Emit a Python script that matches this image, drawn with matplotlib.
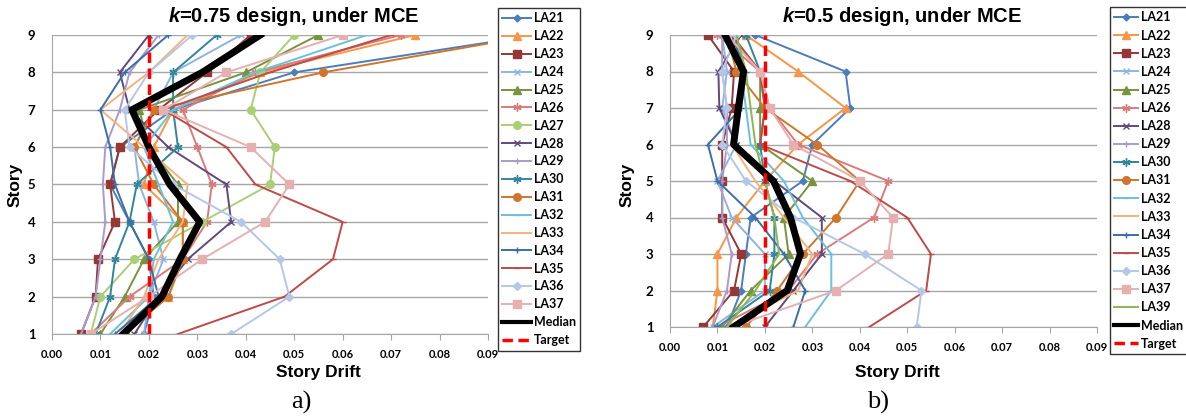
import numpy as np
import matplotlib
matplotlib.use('Agg')
import matplotlib.pyplot as plt

plt.rcParams['mathtext.fontset'] = 'custom'
plt.rcParams['mathtext.it'] = 'Liberation Sans:italic:bold'
plt.rcParams['mathtext.rm'] = 'Liberation Sans:bold'

stories = [1, 2, 3, 4, 5, 6, 7, 8, 9]
target = 0.02

# a) k=0.75 design
labels_a = ['LA21', 'LA22', 'LA23', 'LA24', 'LA25', 'LA26', 'LA27', 'LA28', 'LA29',
            'LA30', 'LA31', 'LA32', 'LA33', 'LA34', 'LA35', 'LA36', 'LA37']
drift_a = [
    [0.019, 0.021, 0.020, 0.016, 0.012, 0.014, 0.025, 0.050, 0.100],  # LA21
    [0.015, 0.024, 0.027, 0.027, 0.019, 0.021, 0.025, 0.043, 0.075],  # LA22
    [0.006, 0.009, 0.0095, 0.013, 0.012, 0.014, 0.022, 0.032, 0.041], # LA23
    [0.019, 0.020, 0.023, 0.021, 0.018, 0.017, 0.021, 0.025, 0.039],  # LA24
    [0.010, 0.015, 0.019, 0.026, 0.026, 0.020, 0.018, 0.040, 0.055],  # LA25
    [0.008, 0.016, 0.027, 0.032, 0.033, 0.030, 0.027, 0.042, 0.072],  # LA26
    [0.008, 0.010, 0.017, 0.031, 0.045, 0.046, 0.041, 0.043, 0.050],  # LA27
    [0.017, 0.022, 0.028, 0.037, 0.036, 0.024, 0.016, 0.014, 0.020],  # LA28
    [0.006, 0.009, 0.010, 0.011, 0.0105, 0.011, 0.014, 0.016, 0.022], # LA29
    [0.009, 0.012, 0.013, 0.016, 0.0175, 0.026, 0.025, 0.025, 0.034], # LA30
    [0.015, 0.024, 0.027, 0.027, 0.021, 0.017, 0.021, 0.056, 0.100],  # LA31
    [0.012, 0.020, 0.021, 0.025, 0.022, 0.019, 0.025, 0.042, 0.065],  # LA32
    [0.014, 0.019, 0.022, 0.027, 0.028, 0.019, 0.010, 0.020, 0.028],  # LA33
    [0.013, 0.022, 0.020, 0.016, 0.013, 0.012, 0.010, 0.015, 0.024],  # LA34
    [0.026, 0.048, 0.058, 0.060, 0.042, 0.036, 0.023, 0.045, 0.070],  # LA35
    [0.037, 0.049, 0.047, 0.039, 0.025, 0.016, 0.015, 0.020, 0.029],  # LA36
    [0.008, 0.020, 0.031, 0.044, 0.049, 0.041, 0.023, 0.036, 0.060],  # LA37
]
median_a = [0.0147, 0.0227, 0.0264, 0.0305, 0.0243, 0.020, 0.0165, 0.031, 0.043]

# b) k=0.5 design
labels_b = ['LA21', 'LA22', 'LA23', 'LA24', 'LA25', 'LA26', 'LA28', 'LA29', 'LA30',
            'LA31', 'LA32', 'LA33', 'LA34', 'LA35', 'LA36', 'LA37', 'LA39']
drift_b = [
    [0.012, 0.015, 0.016, 0.017, 0.028, 0.030, 0.038, 0.037, 0.018],  # LA21
    [0.009, 0.010, 0.010, 0.014, 0.020, 0.027, 0.037, 0.027, 0.016],  # LA22
    [0.007, 0.0135, 0.015, 0.011, 0.011, 0.011, 0.013, 0.0135, 0.008],# LA23
    [0.009, 0.020, 0.020, 0.013, 0.010, 0.014, 0.011, 0.012, 0.011],  # LA24
    [0.011, 0.017, 0.025, 0.024, 0.030, 0.019, 0.019, 0.019, 0.013],  # LA25
    [0.010, 0.025, 0.031, 0.043, 0.046, 0.027, 0.021, 0.019, 0.010],  # LA26
    [0.020, 0.026, 0.032, 0.032, 0.022, 0.014, 0.0104, 0.0102, 0.015],# LA28
    [0.009, 0.012, 0.013, 0.011, 0.011, 0.012, 0.012, 0.011, 0.011],  # LA29
    [0.010, 0.021, 0.022, 0.022, 0.020, 0.019, 0.020, 0.019, 0.016],  # LA30
    [0.016, 0.0226, 0.028, 0.035, 0.040, 0.031, 0.020, 0.014, 0.012], # LA31
    [0.0285, 0.034, 0.034, 0.028, 0.024, 0.017, 0.016, 0.015, 0.014], # LA32
    [0.012, 0.027, 0.030, 0.024, 0.018, 0.013, 0.015, 0.016, 0.013],  # LA33
    [0.026, 0.0285, 0.024, 0.018, 0.010, 0.008, 0.015, 0.016, 0.013], # LA34
    [0.042, 0.054, 0.055, 0.050, 0.038, 0.019, 0.020, 0.019, 0.013],  # LA35
    [0.052, 0.053, 0.041, 0.026, 0.016, 0.011, 0.012, 0.011, 0.014],  # LA36
    [0.013, 0.035, 0.046, 0.047, 0.040, 0.026, 0.021, 0.019, 0.012],  # LA37
    [0.012, 0.018, 0.023, 0.022, 0.020, 0.018, 0.017, 0.016, 0.014],  # LA39
]
median_b = [0.0134, 0.0247, 0.0275, 0.0254, 0.0218, 0.0134, 0.0144, 0.0155, 0.0116]

asterisk = (6, 2, 0)
style = {
    'LA21': ('#4A7EBB', 'D', 3.5),
    'LA22': ('#F79646', '^', 5.5),
    'LA23': ('#953735', 's', 5.5),
    'LA24': ('#8EB4E3', 'x', 5),
    'LA25': ('#77933C', '^', 5.5),
    'LA26': ('#DA7B7B', asterisk, 6),
    'LA27': ('#AACF74', 'o', 5.5),
    'LA28': ('#604A7B', 'x', 5),
    'LA29': ('#A99BCB', '+', 5),
    'LA30': ('#31859C', asterisk, 6),
    'LA31': ('#D0762C', 'o', 5.5),
    'LA32': ('#6CC0D8', '_', 5),
    'LA33': ('#F7B27A', None, 0),
    'LA34': ('#3C6EAA', '+', 5),
    'LA35': ('#BE4B48', '_', 5),
    'LA36': ('#B4C7E7', 'D', 4),
    'LA37': ('#E6B0B0', 's', 6),
    'LA39': ('#8DB650', None, 0),
}

fig = plt.figure(figsize=(11.86, 4.2), dpi=100)
ax_a = fig.add_axes([52 / 1186, 1 - 334 / 420, 436 / 1186, 299 / 420])
ax_b = fig.add_axes([670 / 1186, 1 - 327 / 420, 427 / 1186, 292 / 420])

tick_font = {'family': 'Lato', 'weight': 'bold'}


def draw(ax, labels, drift, median, title, title_x, legend_pos, spacing, hlen,
         xlab_x, ylab_x, tag, tag_x):
    for name, vals in zip(labels, drift):
        c, m, ms = style[name]
        ax.plot(vals, stories, color=c, marker=m, markersize=ms, lw=1.4,
                markeredgewidth=1.0, label=name)
    ax.plot(median, stories, color='black', lw=5, label='Median')
    ax.plot([target, target], [1, 9], color='red', lw=2.5, ls=(0, (3, 1.6)),
            label='Target')
    ax.set_xlim(0, 0.09)
    ax.set_ylim(1, 9)
    ax.set_xticks(np.arange(0, 0.091, 0.01))
    ax.set_xticklabels(['%.2f' % v for v in np.arange(0, 0.091, 0.01)],
                       fontsize=8, **tick_font)
    ax.set_yticks(stories)
    ax.set_yticklabels([str(s) for s in stories], fontsize=9.5, **tick_font)
    ax.grid(axis='y', color='#A6A6A6', lw=1)
    ax.set_axisbelow(True)
    for s in ['top', 'right']:
        ax.spines[s].set_visible(False)
    ax.spines['left'].set_color('#A6A6A6')
    ax.spines['bottom'].set_color('#A6A6A6')
    ax.tick_params(axis='x', direction='out', length=4, color='#A6A6A6', pad=7)
    ax.tick_params(axis='y', length=0, pad=12)
    fig.text(title_x / 1186, 1 - 16 / 420, title, ha='center', va='center',
             fontsize=14.5, fontweight='bold', family='Liberation Sans')
    fig.text(xlab_x / 1186, 1 - 373 / 420, 'Story Drift', ha='center', va='center',
             fontsize=12.5, fontweight='bold', family='Liberation Sans')
    fig.text(ylab_x / 1186, 1 - 185 / 420, 'Story', ha='center', va='center',
             rotation=90, fontsize=12.5, fontweight='bold', family='Liberation Sans')
    fig.text(tag_x / 1186, 1 - 402 / 420, tag, ha='center', va='center',
             fontsize=19, family='Liberation Serif')
    leg = fig.legend(*ax.get_legend_handles_labels(), loc='upper left',
                     bbox_to_anchor=legend_pos, bbox_transform=fig.transFigure,
                     frameon=True, fancybox=False, edgecolor='black',
                     prop={'family': 'Lato', 'weight': 'bold', 'size': 9},
                     handlelength=hlen, handletextpad=0.2, labelspacing=spacing,
                     borderpad=0.35, borderaxespad=0)
    leg.get_frame().set_linewidth(1.0)
    for line, text in zip(leg.get_lines(), leg.get_texts()):
        if text.get_text() == 'Median':
            line.set_linewidth(3)


draw(ax_a, labels_a, drift_a, median_a, r'$k$=0.75 design, under MCE', 294,
     (498 / 1186, 1 - 8 / 420), 0.47, 2.3, 318, 15, 'a)', 301)
draw(ax_b, labels_b, drift_b, median_b, r'$k$=0.5 design, under MCE', 902,
     (1110 / 1186, 1 - 7 / 420), 0.49, 1.9, 897, 627, 'b)', 878)

fig.savefig('out.png', dpi=100)
